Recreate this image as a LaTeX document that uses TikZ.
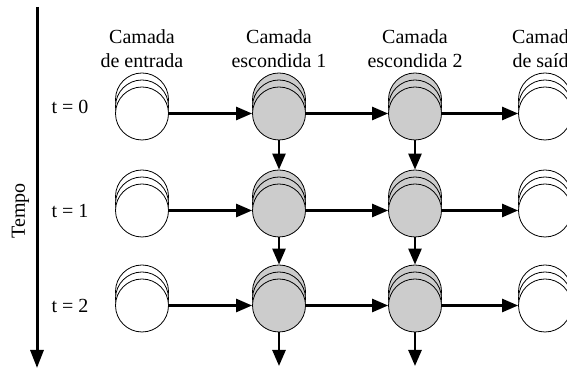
\documentclass[tikz,border=0pt]{standalone}
\usepackage{fontspec}
\setmainfont{Liberation Serif}
\usetikzlibrary{arrows.meta}
\definecolor{hidfill}{gray}{0.8}
\begin{document}
\begin{tikzpicture}[x=1pt,y=1pt,
  neuron/.style={circle, draw, line width=0.8pt, minimum size=53pt, inner sep=0pt},
  link/.style={line width=2.6pt, -{Triangle[length=16pt,width=13pt]}},
  axisline/.style={line width=3pt, -{Triangle[length=18pt,width=13pt]}},
  txt/.style={font=\fontsize{20}{24}\selectfont, inner sep=0pt},
  lbl/.style={txt, align=center, anchor=north}]
\useasboundingbox (0,0) rectangle (567,371);

% stacked layers of units: three overlapping circles per cell
\foreach \c/\x/\fc in {1/142/white, 2/279/hidfill, 3/415/hidfill, 4/545/white} {
  \foreach \r/\y in {0/257.5, 1/160.5, 2/65.5} {
    \node[neuron, fill=\fc] (b\c\r) at (\x,\y+14) {};
    \node[neuron, fill=\fc] (m\c\r) at (\x,\y+7) {};
    \node[neuron, fill=\fc] (f\c\r) at (\x,\y) {};
  }
}

% layer titles
\node[lbl] (l1) at (142,341.7) {Camada\\de entrada};
\node[lbl] (l2) at (279,341.7) {Camada\\escondida 1};
\node[lbl] (l3) at (415,341.7) {Camada\\escondida 2};
\node[lbl] (l4) at (545,341.7) {Camada\\de saída};

% time steps
\node[txt] (t0) at (70,264) {t = 0};
\node[txt] (t1) at (70,160) {t = 1};
\node[txt] (t2) at (70,65.5) {t = 2};
\node[txt, rotate=90] (tempo) at (20.5,160) {Tempo};

% time axis
\coordinate (axTop) at (37,364);
\coordinate (axEnd) at (37,3);
\draw[axisline] (axTop) -- (axEnd);

% forward connections between layers
\foreach \r in {0,1,2} {
  \draw[link] (f1\r.east) -- (f2\r.west);
  \draw[link] (f2\r.east) -- (f3\r.west);
  \draw[link] (f3\r.east) -- (f4\r.west);
}

% recurrent connections through time
\draw[link] (f20.south) -- (b21.north);
\draw[link] (f21.south) -- (b22.north);
\draw[link] (f30.south) -- (b31.north);
\draw[link] (f31.south) -- (b32.north);
\coordinate (out2) at (279,5);
\coordinate (out3) at (415,5);
\draw[link] (f22.south) -- (out2);
\draw[link] (f32.south) -- (out3);
\end{tikzpicture}
\end{document}
